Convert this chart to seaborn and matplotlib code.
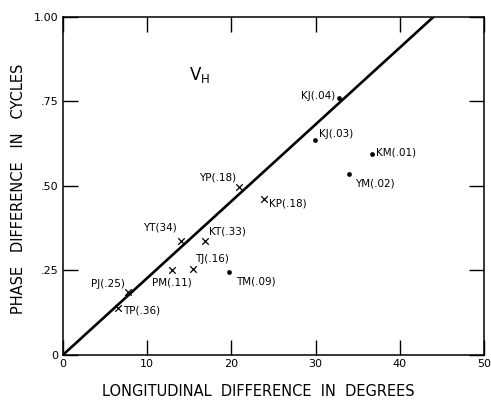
import matplotlib
matplotlib.use('Agg')
import matplotlib.pyplot as plt
import seaborn as sns
import pandas as pd

# Точки (•) и крестики (x) с подписями
dot_labels = ['KJ(.04)', 'KJ(.03)', 'KM(.01)', 'YM(.02)', 'TM(.09)']
dot_lon = [32.8, 29.9, 36.7, 34.0, 19.7]
dot_phase = [0.76, 0.635, 0.595, 0.535, 0.245]

cross_labels = ['YP(.18)', 'KP(.18)', 'YT(34)', 'KT(.33)', 'TJ(.16)',
                'PM(.11)', 'PJ(.25)', 'TP(.36)']
cross_lon = [20.9, 23.9, 14.0, 16.9, 15.4, 12.9, 7.7, 6.6]
cross_phase = [0.497, 0.462, 0.337, 0.337, 0.254, 0.251, 0.186, 0.139]

# Прямая
line_lon = [0, 44]
line_phase = [0, 1.0]

x_ticks = [0, 10, 20, 30, 40, 50]
y_ticks = [0, 0.25, 0.50, 0.75, 1.00]
y_ticklabels = ['0', '.25', '.50', '.75', '1.00']

# смещения подписей (pt) и выравнивание
dot_offsets = [(-3, 1.5, 'right'), (3, 4.5, 'left'), (3, 1, 'left'),
               (4, -6.5, 'left'), (5, -7, 'left')]
cross_offsets = [(-2, 6.5, 'right'), (3.5, -3.5, 'left'), (-15, 10, 'center'),
                 (3, 6.5, 'left'), (2, 7, 'left'), (0, -9, 'center'),
                 (-2, 6, 'right'), (3.5, -2, 'left')]

sns.set_style('ticks')
plt.rcParams['font.family'] = ['DejaVu Sans']
plt.rcParams['mathtext.default'] = 'regular'
plt.rcParams['text.color'] = 'black'
plt.rcParams['axes.labelcolor'] = 'black'

fig = plt.figure(figsize=(4.91, 4.05), dpi=100)
ax = fig.add_axes([0.128, 0.1235, 0.858, 0.835])

df_line = pd.DataFrame({'lon': line_lon, 'phase': line_phase})
sns.lineplot(data=df_line, x='lon', y='phase', color='black', lw=1.9, ax=ax)

df_dot = pd.DataFrame({'lon': dot_lon, 'phase': dot_phase})
sns.scatterplot(data=df_dot, x='lon', y='phase', color='black', s=10,
                marker='o', edgecolor='black', ax=ax)

df_cross = pd.DataFrame({'lon': cross_lon, 'phase': cross_phase})
sns.scatterplot(data=df_cross, x='lon', y='phase', color='black', s=22,
                marker='x', linewidth=0.9, ax=ax)

for lab, x, y, (dx, dy, ha) in zip(dot_labels, dot_lon, dot_phase, dot_offsets):
    ax.annotate(lab, (x, y), xytext=(dx, dy), textcoords='offset points',
                ha=ha, va='center', fontsize=7.5)
for lab, x, y, (dx, dy, ha) in zip(cross_labels, cross_lon, cross_phase, cross_offsets):
    ax.annotate(lab, (x, y), xytext=(dx, dy), textcoords='offset points',
                ha=ha, va='center', fontsize=7.5)

ax.text(15.0, 0.812, '$V_H$', fontsize=12, ha='left', va='baseline')

ax.set_xlim(0, 50)
ax.set_ylim(0, 1.0)
ax.set_xticks(x_ticks)
ax.set_yticks(y_ticks)
ax.set_yticklabels(y_ticklabels)
ax.tick_params(direction='in', length=11, width=1, top=True, right=True,
               labelsize=8, pad=3, colors='black')
for sp in ax.spines.values():
    sp.set_linewidth(1.1)
    sp.set_color('black')

ax.set_xlabel('LONGITUDINAL  DIFFERENCE  IN  DEGREES', fontsize=10.5)
ax.set_ylabel('PHASE   DIFFERENCE   IN   CYCLES', fontsize=10.5)
ax.xaxis.set_label_coords(0.463, -0.085)
ax.yaxis.set_label_coords(-0.087, 0.49)

fig.savefig('out.png', dpi=100)
